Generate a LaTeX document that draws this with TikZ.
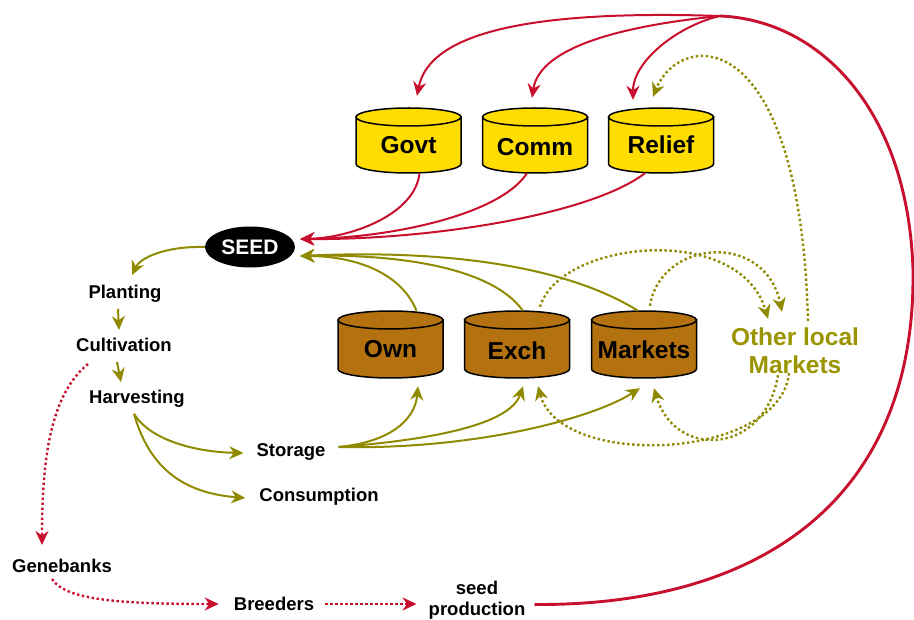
\documentclass[tikz,border=0pt]{standalone}
\usepackage{fontspec}
\setmainfont{Liberation Sans}
\usetikzlibrary{arrows.meta,calc,shapes.geometric}
\definecolor{cred}{HTML}{C8102E}
\definecolor{colive}{HTML}{8F8A00}
\definecolor{ctext}{HTML}{9A9400}
\definecolor{cyellow}{HTML}{FFDD00}
\definecolor{cbrown}{HTML}{B3720F}
\tikzset{
  lbl/.style={font=\fontsize{18.5}{21}\selectfont\bfseries, inner sep=1pt, align=center},
  cyltext/.style={font=\fontsize{24.5}{28}\selectfont\bfseries, inner sep=0pt},
  cylbox/.style={rectangle, inner sep=0pt, minimum width=105pt},
  tip/.style={-{Stealth[length=14pt,width=13pt,inset=4.5pt]}},
  olivearr/.style={draw=colive, line width=2pt, tip},
  olivedot/.style={draw=colive, line width=2.4pt, dash pattern=on 2.4pt off 2.6pt, tip},
  redarr/.style={draw=cred, line width=2pt, tip},
  reddot/.style={draw=cred, line width=2.4pt, dash pattern=on 2.4pt off 2.6pt, tip},
  redbig/.style={draw=cred, line width=2.9pt},
}
% name, cx, top, bottom, fill, text, text y, height
\newcommand\mycyl[8]{%
  \filldraw[fill=#5, draw=black, line width=1.5pt]
    (#2-52.5,-#3-9) -- (#2-52.5,-#4+9)
    arc[start angle=180, end angle=360, x radius=52.5pt, y radius=9pt]
    -- (#2+52.5,-#3-9) -- cycle;
  \filldraw[fill=#5, draw=black, line width=1.5pt] (#2,-#3-9) ellipse[x radius=52.5pt, y radius=9pt];
  \node[cylbox, minimum height=#8pt] (#1) at (#2,{-(#3+#4)/2}) {};
  \node[cyltext] (#1-t) at (#2,-#7) {#6};
}
\begin{document}
\begin{tikzpicture}[x=1pt,y=1pt]
\useasboundingbox (0,0) rectangle (914,-620);

% cylinders
\mycyl{govt}{408.5}{108}{173}{cyellow}{Govt}{145}{65}
\mycyl{comm}{535}{108}{173}{cyellow}{Comm}{147}{65}
\mycyl{relief}{661}{108}{173}{cyellow}{Relief}{145}{65}
\mycyl{own}{390.5}{311}{378}{cbrown}{Own}{349}{67}
\mycyl{exch}{517}{311}{378}{cbrown}{Exch}{351}{67}
\mycyl{markets}{644}{311}{378}{cbrown}{Markets}{350}{67}

% seed
\node[ellipse, fill=black, minimum width=90pt, minimum height=41pt, inner sep=0pt,
      text=white, font=\fontsize{21}{24}\selectfont\bfseries] (seed) at (250,-247) {SEED};

% labels
\node[lbl] (planting) at (125,-294) {Planting};
\node[lbl] (cultivation) at (124,-345) {Cultivation};
\node[lbl] (harvesting) at (137,-399) {Harvesting};
\node[lbl] (storage) at (291,-452) {Storage};
\node[lbl] (consumption) at (319,-497) {Consumption};
\node[lbl] (genebanks) at (62,-566) {Genebanks};
\node[lbl] (breeders) at (274,-604) {Breeders};
\node[lbl] (sp) at (477,-600.5) {seed\\production};
\node[font=\fontsize{24.5}{28}\selectfont\bfseries, text=ctext, align=center, inner sep=0pt]
  (olm) at (795,-351) {Other local\\Markets};

\coordinate (hub) at (720,-16);

% red arrows from hub
\draw[redarr] (hub) .. controls (540,-10) and (430,-30) .. ($(govt.north)+(8.5,12)$);
\draw[redarr] (hub) .. controls (630,-25) and (540,-45) .. ($(comm.north)+(-3,10)$);
\draw[redarr] (hub) .. controls (680,-25) and (633,-60) .. ($(relief.north)+(-28,8)$);
\draw[redbig] ($(sp.east)+(8,-4)$) .. controls (760,-606) and (916,-500) .. (913,-270)
   .. controls (908,-110) and (820,-20) .. (hub);

% red to seed
\draw[redarr] ($(govt.south)+(11,0)$) .. controls (415,-215) and (350,-238) .. ($(seed.east)+(5,8)$);
\draw[redarr] ($(comm.south)+(-8,0)$) .. controls (500,-215) and (390,-238) .. ($(seed.east)+(5,8)$);
\draw[redarr] ($(relief.south)+(-16,0)$) .. controls (590,-215) and (430,-240) .. ($(seed.east)+(5,8)$);

% olive to seed
\draw[olivearr] ($(own.north)+(26,0)$) .. controls (400,-270) and (350,-256) .. ($(seed.east)+(5,-9)$);
\draw[olivearr] ($(exch.north)+(6,0)$) .. controls (490,-265) and (390,-254) .. ($(seed.east)+(5,-9)$);
\draw[olivearr] ($(markets.north)+(-6,0)$) .. controls (560,-262) and (430,-250) .. ($(seed.east)+(5,-9)$);

% olive flow
\draw[olivearr] (seed.west) .. controls (165,-246) and (140,-258) .. ($(planting.north)+(7,9)$);
\draw[olivearr] ($(planting.south)+(-7,-5)$) -- ($(cultivation.north)+(-5,7)$);
\draw[olivearr] ($(cultivation.south)+(-7,-9)$) -- ($(harvesting.north)+(-16,7)$);
\draw[olivearr] ($(harvesting.south)+(-3,-5)$) .. controls (150,-440) and (195,-452) .. ($(storage.west)+(-12,-1)$);
\draw[olivearr] ($(harvesting.south)+(-3,-5)$) .. controls (150,-470) and (185,-493) .. ($(consumption.west)+(-13,-1)$);
\draw[olivearr] ($(storage.east)+(12,5)$) .. controls (390,-442) and (415,-420) .. ($(own.south)+(27.5,-8)$);
\draw[olivearr] ($(storage.east)+(12,5)$) .. controls (430,-440) and (510,-425) .. ($(exch.south)+(6,-8)$);
\draw[olivearr] ($(storage.east)+(12,5)$) .. controls (470,-450) and (590,-420) .. ($(markets.south)+(-4,-10)$);

% olive dotted
\draw[olivedot] ($(exch.north)+(23,4)$) .. controls (560,-240) and (740,-222) .. ($(olm.north)+(-27,9)$);
\draw[olivedot] ($(markets.north)+(6,5)$) .. controls (660,-240) and (765,-230) .. ($(olm.north)+(-13,16)$);
\draw[olivedot] ($(olm.south)+(-6,1)$) .. controls (780,-460) and (560,-470) .. ($(exch.south)+(21,-8)$);
\draw[olivedot] ($(olm.south)+(-17,-1)$) .. controls (765,-455) and (675,-460) .. ($(markets.south)+(10,-10)$);
\draw[olivedot] ($(olm.north)+(13,7)$) .. controls (800,-20) and (680,-30) .. ($(relief.north)+(-8,11)$);

% red dotted
\draw[reddot] ($(cultivation.south)+(-36,-11)$) .. controls (50,-395) and (42,-460) .. ($(genebanks.north)+(-20,13)$);
\draw[reddot] ($(genebanks.south)+(-10,-5)$) .. controls (65,-600) and (120,-604) .. ($(breeders.west)+(-14,0)$);
\draw[reddot] ($(breeders.east)+(10,0)$) -- ($(sp.west)+(-11,-3.5)$);
\end{tikzpicture}
\end{document}
